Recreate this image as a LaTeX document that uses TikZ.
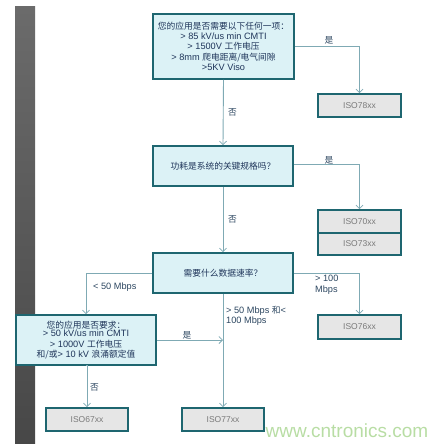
\documentclass[tikz,border=0pt]{standalone}
\usepackage{fontspec}
\setmainfont{Liberation Sans}
\newfontfamily\cjk[Scale=0.95]{Noto Sans CJK SC}
\usetikzlibrary{arrows.meta}
\definecolor{boxfill}{HTML}{DCF2F6}
\definecolor{boxline}{HTML}{1E6670}
\definecolor{conn}{HTML}{7FAAB4}
\definecolor{resfill}{HTML}{E6E6E6}
\definecolor{restext}{HTML}{7A7A7A}
\definecolor{qtext}{HTML}{1F355A}
\definecolor{lbltext}{HTML}{2C4660}
\definecolor{wm}{HTML}{B8DDA4}
\tikzset{
  qbox/.style={draw=boxline, line width=1.6pt, fill=boxfill, text=qtext, align=center,
    font=\fontsize{9.2}{10.6}\selectfont, inner sep=1pt},
  resbox/.style={draw=boxline, line width=1.6pt, fill=resfill, text=restext,
    font=\fontsize{8.5}{10}\selectfont, minimum width=83pt, inner sep=0pt},
  conline/.style={draw=conn, line width=0.9pt, -{Straight Barb[length=3.5pt,width=7pt,line width=0.8pt]}},
  lbl/.style={text=lbltext, font=\fontsize{9.2}{10.5}\selectfont, inner sep=0pt, align=left}
}
\begin{document}
\begin{tikzpicture}[x=1pt,y=-1pt]
\useasboundingbox (0,0) rectangle (448,447);
% grey side bar
\shade[top color=black!58, bottom color=black!72] (15,6) rectangle (35,443);

% decision boxes
\node[qbox, minimum width=141pt, minimum height=65pt] (q1) at (223.5,46.5)
  {{\cjk 您的应用是否需要以下任何一项：}\\[-1pt] > 85 kV/us min CMTI\\ > 1500V {\cjk 工作电压}\\ > 8mm {\cjk 爬电距离/电气间隙}\\ >5KV Viso};
\node[qbox, minimum width=140pt, minimum height=40pt] (q2) at (223,166)
  {{\cjk 功耗是系统的关键规格吗？}};
\node[qbox, minimum width=140pt, minimum height=40pt] (q3) at (223,273)
  {{\cjk 需要什么数据速率？}};
\node[qbox, minimum width=140pt, minimum height=50pt] (q4) at (86,340)
  {{\cjk 您的应用是否要求：}\\[-2pt] > 50 kV/us min CMTI\\ > 1000V {\cjk 工作电压}\\ {\cjk 和/或}> 10 kV {\cjk 浪涌额定值}};

% result boxes
\node[resbox, minimum height=23pt] (r78) at (359.5,105.5) {ISO78xx};
\node[resbox, minimum height=23pt] (r70) at (359.5,221.5) {ISO70xx};
\node[resbox, minimum height=22pt] (r73) at (359.5,244) {ISO73xx};
\node[resbox, minimum height=24pt] (r76) at (359.5,327) {ISO76xx};
\node[resbox, minimum height=23pt, minimum width=82pt] (r67) at (87,419.5) {ISO67xx};
\node[resbox, minimum height=23pt, minimum width=82pt] (r77) at (223,419.5) {ISO77xx};

% connectors
\draw[conline] (q1.east) -| (r78.north);
\draw[conline] (q1.south) -- (q2.north);
\draw[conline] ([yshift=2pt]q2.east) -| (r70.north);
\draw[conline] (q2.south) -- (q3.north);
\draw[conline] (q3.west) -| (q4.north);
\draw[conline] (q3.east) -| (r76.north);
\draw[conline] (q3.south) -- (r77.north);
\coordinate (mid) at (q4.east -| q3.south);
\draw[conline] (q4.east) -- (mid);
\draw[conline] (q4.south) -- (r67.north |- q4.south) -- (r67.north);

% labels
\node[lbl] (l1) at (329,40) {\cjk 是};
\node[lbl, anchor=west] (l2) at (228,112) {\cjk 否};
\node[lbl] (l3) at (329,160) {\cjk 是};
\node[lbl, anchor=west] (l4) at (228,219) {\cjk 否};
\node[lbl, anchor=west] (l5) at (93,287) {< 50 Mbps};
\node[lbl, anchor=west] (l6) at (315,284.5) {> 100\\Mbps};
\node[lbl, anchor=west] (l7) at (226,316) {> 50 Mbps {\cjk 和}<\\100 Mbps};
\node[lbl] (l8) at (187,335) {\cjk 是};
\node[lbl, anchor=west] (l9) at (90,387) {\cjk 否};

% watermark
\node[text=wm, font=\fontsize{19}{20}\selectfont, inner sep=0pt] (wmk) at (347,431) {www.cntronics.com};
\end{tikzpicture}
\end{document}
